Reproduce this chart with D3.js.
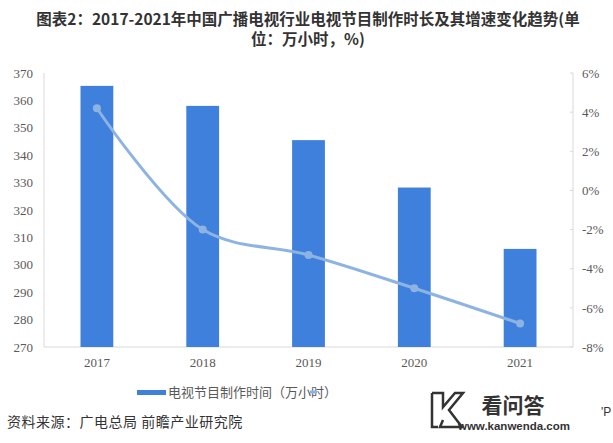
<!DOCTYPE html>
<html><head><meta charset="utf-8">
<script src="https://cdn.jsdelivr.net/npm/d3@7"></script>
<style>body{margin:0;background:#fff}svg{display:block}</style>
</head><body>
<svg id="c" width="613" height="443"></svg>
<script>
const years = ["2017","2018","2019","2020","2021"];
const hours = [365.3, 358.0, 345.5, 328.2, 305.8];
const growth = [4.2, -2.0, -3.3, -5.0, -6.8];
const leftTicks = [270,280,290,300,310,320,330,340,350,360,370];
const rightTicks = [-8,-6,-4,-2,0,2,4,6];
const titleLines = ["图表2：2017-2021年中国广播电视行业电视节目制作时长及其增速变化趋势(单","位：万小时，%)"];
const legendBar = "电视节目制作时间（万小时）";
const sourceText = "资料来源：广电总局 前瞻产业研究院";

const svg = d3.select("#c");
const L = 44, R = 573, T = 73, B = 347;
const cjk = "'Microsoft YaHei','Noto Sans CJK SC',sans-serif";
const serif = "'Liberation Serif','Times New Roman',serif";

// title
titleLines.forEach((t,i)=>{
  svg.append("text").attr("x",308).attr("y",25+i*20).attr("text-anchor","middle")
    .attr("font-family",cjk).attr("font-weight","bold").attr("font-size",15.5).attr("fill","#333")
    .text(t);
});

const x = d3.scaleBand().domain(years).range([L,R]).padding(0);
const yL = d3.scaleLinear().domain([270,370]).range([B,T]);
const yR = d3.scaleLinear().domain([-8,6]).range([B,T]);

// axes lines
svg.append("line").attr("x1",L).attr("x2",L).attr("y1",T).attr("y2",B).attr("stroke","#d9d9d9");
svg.append("line").attr("x1",R).attr("x2",R).attr("y1",T).attr("y2",B).attr("stroke","#d9d9d9");
svg.append("line").attr("x1",L).attr("x2",R).attr("y1",B).attr("y2",B).attr("stroke","#d9d9d9");

// left axis
const gl = svg.append("g").attr("transform",`translate(${L},0)`)
  .call(d3.axisLeft(yL).tickValues(leftTicks).tickSize(0).tickPadding(11));
gl.select(".domain").remove();
gl.selectAll("text").attr("font-family",serif).attr("font-size",13).attr("fill","#595959");

// right axis
const gr = svg.append("g").attr("transform",`translate(${R},0)`)
  .call(d3.axisRight(yR).tickValues(rightTicks).tickSize(0).tickPadding(9).tickFormat(d=>d+"%"));
gr.select(".domain").remove();
gr.selectAll("text").attr("font-family",serif).attr("font-size",13).attr("fill","#595959");
svg.selectAll(".rtick").data(rightTicks).enter().append("line")
  .attr("x1",R-3).attr("x2",R).attr("y1",d=>yR(d)).attr("y2",d=>yR(d)).attr("stroke","#d9d9d9");

// x axis labels
const gx = svg.append("g").attr("transform",`translate(0,${B})`)
  .call(d3.axisBottom(x).tickSize(0).tickPadding(11));
gx.select(".domain").remove();
gx.selectAll("text").attr("font-family",serif).attr("font-size",13).attr("fill","#595959");

// bars
const bw = x.bandwidth()*0.31;
svg.selectAll(".bar").data(years).enter().append("rect")
  .attr("x",d=>x(d)+x.bandwidth()/2-bw/2).attr("width",bw)
  .attr("y",(d,i)=>yL(hours[i])).attr("height",(d,i)=>B-yL(hours[i]))
  .attr("fill","#3f80dc");

// line
const lineColor = "#8db3e2";
const pts = years.map((d,i)=>[x(d)+x.bandwidth()/2, yR(growth[i])]);
svg.append("path").attr("d",d3.line().curve(d3.curveCatmullRom.alpha(0.5))(pts))
  .attr("fill","none").attr("stroke",lineColor).attr("stroke-width",3);
svg.selectAll(".pt").data(pts).enter().append("circle")
  .attr("cx",d=>d[0]).attr("cy",d=>d[1]).attr("r",4).attr("fill",lineColor);

// legend
svg.append("rect").attr("x",137).attr("y",390).attr("width",29).attr("height",5).attr("fill","#3f80dc");
svg.append("text").attr("x",168).attr("y",397).attr("font-family",cjk).attr("font-size",13).attr("fill","#595959").text(legendBar);
svg.append("line").attr("x1",310).attr("x2",317).attr("y1",392).attr("y2",392).attr("stroke",lineColor).attr("stroke-width",3);

// source
svg.append("text").attr("x",7).attr("y",427).attr("font-family",cjk).attr("font-size",14).attr("fill","#333")
  .attr("letter-spacing",0.5).text(sourceText);

// overlay watermark logo
svg.append("path").attr("d","M432,393 L443,393 L443,407 L455,393 L463,393 L449,410 L462,427 L440,427 L443,420 M432,393 L432,427 L438,427")
  .attr("fill","none").attr("stroke","#333").attr("stroke-width",2.5);
svg.append("text").attr("x",513).attr("y",413).attr("text-anchor","middle").attr("font-family",cjk)
  .attr("font-weight","bold").attr("font-size",21).attr("fill","#333").text("看问答");
svg.append("text").attr("x",514).attr("y",430).attr("text-anchor","middle").attr("font-family","'Liberation Sans',Arial,sans-serif")
  .attr("font-weight","bold").attr("font-size",11.5).attr("fill","#333").text("www.kanwenda.com");
svg.append("text").attr("x",601).attr("y",416).attr("font-family","'Liberation Sans',Arial,sans-serif")
  .attr("font-size",12).attr("fill","#333").text("'P");
</script>
</body></html>
